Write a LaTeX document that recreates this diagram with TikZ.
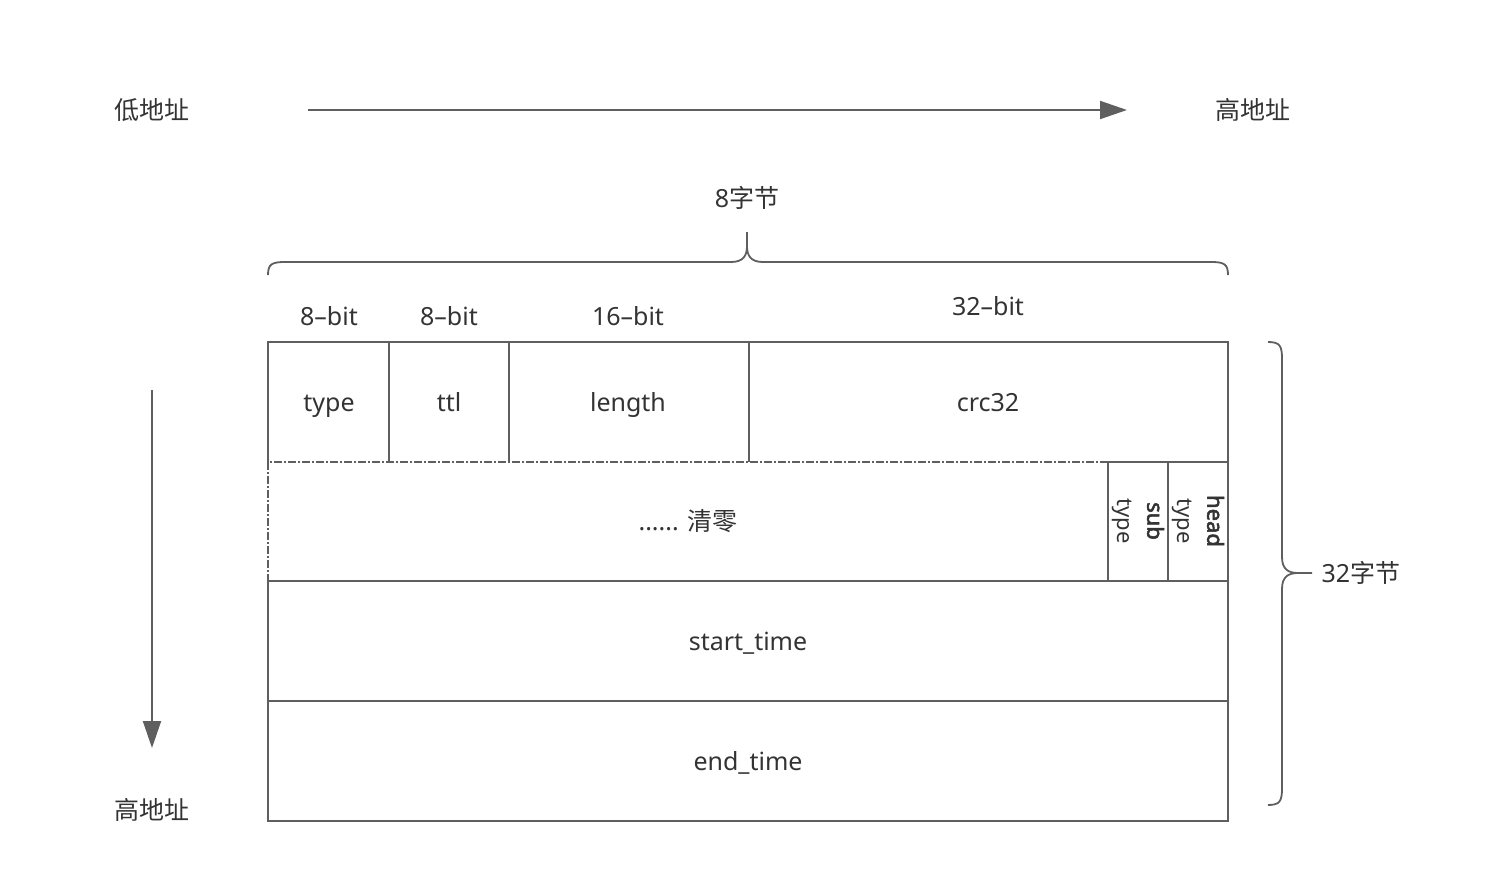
\documentclass[tikz,border=0pt]{standalone}
\usepackage{fontspec}
\setmainfont{Noto Sans}
\newfontfamily\cjk{Noto Sans CJK SC}
\newfontfamily\heavy{Noto Sans}[FakeBold=2.5]
\usetikzlibrary{arrows.meta}
\definecolor{linegray}{HTML}{5F5F5F}
\definecolor{textgray}{HTML}{333333}
\tikzset{
	frame/.style={draw=linegray, line width=2pt},
	dashframe/.style={frame, dash pattern=on 8pt off 2pt on 2pt off 2pt},
	field/.style={text=textgray, font=\fontsize{25}{28}\selectfont,
		text height=20pt, text depth=2pt},
	flag/.style={text=textgray, rotate=-90, align=center,
		font=\fontsize{22}{30}\selectfont},
	brace/.style={draw=linegray, line width=1.8pt},
	dirarrow/.style={draw=linegray, line width=2pt,
		-{Triangle[length=27pt, width=18pt]}}
}

\begin{document}
\begin{tikzpicture}[x=1pt, y=-1pt]
		\useasboundingbox (0,0) rectangle (1510,894);
		% address direction
		\node[field] (low) at (152,110) {\cjk 低地址};
		\node[field] (high) at (1253,110) {\cjk 高地址};
		\node[field] (down) at (152,810) {\cjk 高地址};
		\coordinate (h0) at (308,110);
		\coordinate (h1) at (1127,110);
		\coordinate (v0) at (152,390);
		\coordinate (v1) at (152,748);
		\draw[dirarrow] (h0) -- (h1);
		\draw[dirarrow] (v0) -- (v1);

		% braces
		\coordinate (b0) at (268,275);
		\coordinate (bt) at (747,232);
		\coordinate (b1) at (1228,275);
		\draw[brace] (b0) .. controls (268,264) and (272,262) .. (285,262) -- (731,262)
			.. controls (743,262) and (747,256) .. (747,246) -- (bt)
			-- (747,246) .. controls (747,256) and (751,262) .. (763,262)
			-- (1211,262) .. controls (1224,262) and (1228,264) .. (b1);
		\node[field] (bytes8) at (747,198) {8{\cjk 字节}};
		\coordinate (r0) at (1268,342);
		\coordinate (rt) at (1312,573);
		\coordinate (r1) at (1268,805);
		\draw[brace] (r0) .. controls (1280,342) and (1282,346) .. (1282,359) -- (1282,557)
			.. controls (1282,569) and (1288,573) .. (1298,573) -- (rt)
			-- (1298,573) .. controls (1288,573) and (1282,577) .. (1282,589)
			-- (1282,788) .. controls (1282,801) and (1280,805) .. (r1);
		\node[field, anchor=west] (bytes32) at (1318,573) {32{\cjk 字节}};

		% bit widths
		\node[field] (w1) at (329,316) {8--bit};
		\node[field] (w2) at (449,316) {8--bit};
		\node[field] (w3) at (628,316) {16--bit};
		\node[field] (w4) at (988,306) {32--bit};

		% first row
		\draw[frame] (268,462) -- (268,342) -- (1228,342) -- (1228,462);
		\draw[frame] (389,342) -- (389,462);
		\draw[frame] (509,342) -- (509,462);
		\draw[frame] (749,342) -- (749,462);
		\node[field] (type) at (329,402) {type};
		\node[field] (ttl) at (449,402) {ttl};
		\node[field] (length) at (628,402) {length};
		\node[field] (crc) at (988,402) {crc32};

		% second row
		\draw[dashframe] (268,462) rectangle (1108,581);
		\draw[frame] (1108,462) rectangle (1168,581);
		\draw[frame] (1168,462) rectangle (1228,581);
		\node[field] (zero) at (688,521) {...... {\cjk 清零}};
		\node[flag] (subtype) at (1138,521) {{\heavy sub}\\type};
		\node[flag] (headtype) at (1198,521) {{\heavy head}\\type};

		% time rows
		\draw[frame] (268,581) rectangle (1228,701);
		\draw[frame] (268,701) rectangle (1228,821);
		\node[field] (start) at (748,641) {start\_time};
		\node[field] (end) at (748,761) {end\_time};
	\end{tikzpicture}
\end{document}
